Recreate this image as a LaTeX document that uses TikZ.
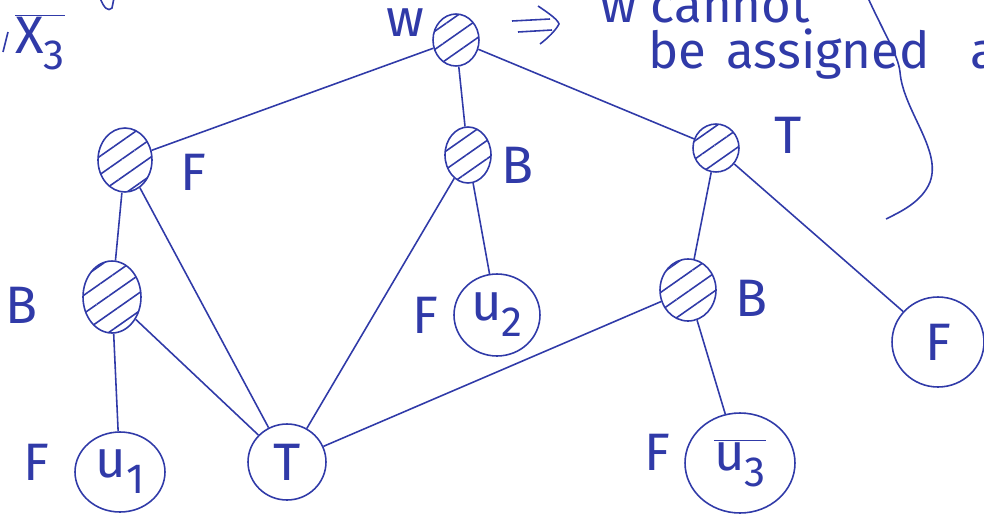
\documentclass[tikz,border=0pt]{standalone}
\usepackage{fontspec}
\usepackage{graphicx}
\setmainfont{Fira Sans}
\usetikzlibrary{patterns.meta,shapes.geometric,arrows.meta}
\definecolor{ink}{RGB}{48,58,168}
\newcommand{\sub}[1]{\raisebox{-0.3em}{\scalebox{0.8}{#1}}}
\tikzset{
  pen/.style={draw=ink, line width=0.9pt},
  vtx/.style={ellipse, pen, inner sep=0pt, text=ink, font=\fontsize{30}{34}\selectfont},
  hatched/.style={vtx, pattern={Lines[angle=35,distance=8.5pt,line width=0.9pt]}, pattern color=ink},
  lbl/.style={text=ink, inner sep=0pt, font=\fontsize{30}{34}\selectfont},
  note/.style={text=ink, inner sep=0pt, anchor=base west, font=\fontsize{29}{33}\selectfont},
  edge/.style={pen}
}
\begin{document}
\begin{tikzpicture}[x=0.02cm, y=-0.02cm]
\useasboundingbox (0,0) rectangle (984,518);
\clip (0,0) rectangle (984,518);

% hatched (assigned) vertices
\node[hatched, minimum width=0.92cm, minimum height=1.04cm] (w)  at (456,40)  {};
\node[hatched, minimum width=1.08cm, minimum height=1.28cm] (F1) at (125,160) {};
\node[hatched, minimum width=0.92cm, minimum height=1.12cm] (B1) at (468,155) {};
\node[hatched, minimum width=0.92cm, minimum height=0.96cm] (T1) at (716,148) {};
\node[hatched, minimum width=1.16cm, minimum height=1.44cm] (B2) at (112,297) {};
\node[hatched, minimum width=1.12cm, minimum height=1.24cm] (B3) at (688,290) {};

% plain vertices
\node[vtx, minimum width=1.72cm, minimum height=1.64cm] (u2) at (497,315) {u\sub{2}};
\node[vtx, minimum width=1.84cm, minimum height=1.80cm] (Fr) at (938,342) {F};
\node[vtx, minimum width=1.80cm, minimum height=1.60cm] (u1) at (120,472) {u\sub{1}};
\node[vtx, minimum width=1.56cm, minimum height=1.52cm] (T)  at (287,462) {T};
\node[vtx, minimum width=2.20cm, minimum height=2.00cm] (u3) at (740,463) {$\overline{\mbox{u\sub{3}}}$};

% value labels
\node[lbl] (lw)  at (405,23)  {w};
\node[lbl] (lF1) at (193,172) {F};
\node[lbl] (lB1) at (518,165) {B};
\node[lbl] (lT1) at (788,135) {T};
\node[lbl] (lB2) at (22,305)  {B};
\node[lbl] (lu2) at (425,315) {F};
\node[lbl] (lB3) at (752,298) {B};
\node[lbl] (lu1) at (36,462)  {F};
\node[lbl] (lu3) at (657,452) {F};

% edges
\draw[edge] (w) -- (F1);
\draw[edge] (w) -- (B1);
\draw[edge] (w) -- (T1);
\draw[edge] (F1) -- (B2);
\draw[edge] (F1) -- (T);
\draw[edge] (B1) -- (T);
\draw[edge] (B1) -- (u2);
\draw[edge] (T1) -- (B3);
\draw[edge] (T1) -- (Fr);
\draw[edge] (B2) -- (u1);
\draw[edge] (B2) -- (T);
\draw[edge] (B3) -- (T);
\draw[edge] (B3) -- (u3);

% hand-drawn implication arrow
\coordinate (ia) at (512,21);
\coordinate (ib) at (550,19);
\coordinate (ic) at (518,32);
\coordinate (id) at (552,30);
\coordinate (ht) at (538,6);
\coordinate (hm) at (559,24);
\coordinate (hb) at (540,44);
\draw[pen] (ia) -- (ib);
\draw[pen] (ic) -- (id);
\draw[pen] (ht) .. controls (550,14) and (558,20) .. (hm)
  .. controls (556,30) and (548,38) .. (hb);

% note
\node[note] (n1) at (600,22) {w cannot};
\node[note] (n2) at (648,68) {be\hspace{0.4em}assigned};
\node[note] (n3) at (970,68) {a};

% bracket stroke on the right
\draw[pen] (868,-2) .. controls (885,35) and (898,55) .. (900,72)
  .. controls (903,110) and (942,150) .. (930,182)
  .. controls (922,202) and (900,212) .. (886,219);

% fragments at the top left
\node[lbl] (x3) at (40,42) {$\overline{\mbox{X\sub{3}}}$};
\draw[pen] (3,52) -- (8,32);
\draw[pen] (100,-2) .. controls (104,8) and (108,12) .. (112,8) -- (114,-2);
\end{tikzpicture}
\end{document}
